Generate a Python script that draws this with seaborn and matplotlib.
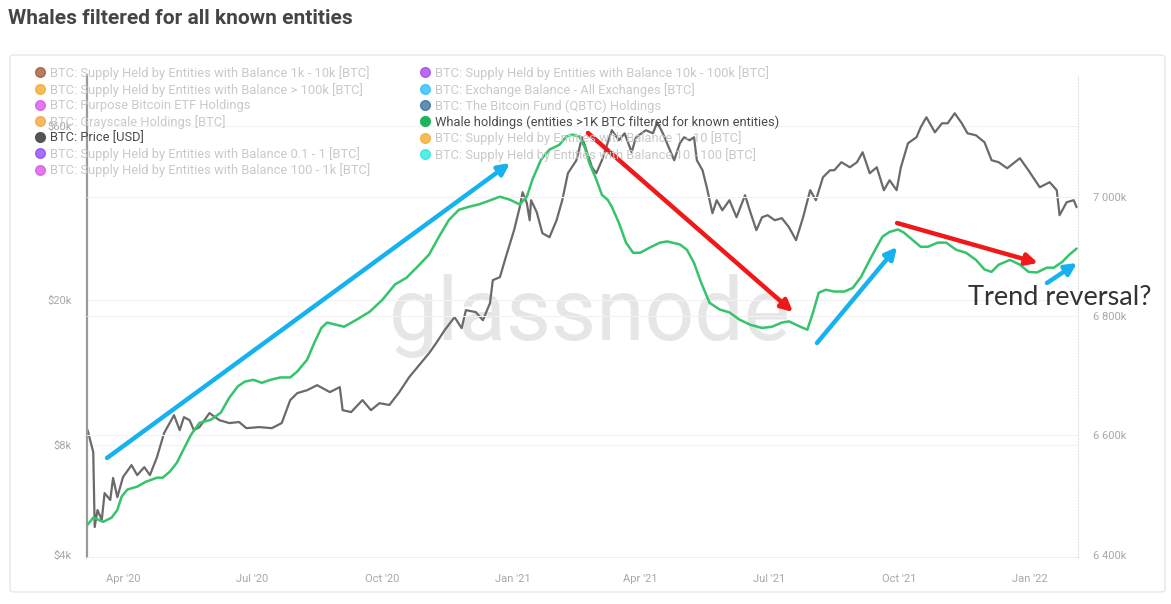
import pandas as pd
import matplotlib
matplotlib.use('Agg')
import matplotlib.pyplot as plt
import matplotlib.dates as mdates
from matplotlib.lines import Line2D
from matplotlib.patches import FancyBboxPatch
import seaborn as sns

price_dates = [
    '2020-03-07', '2020-03-11', '2020-03-12', '2020-03-14', '2020-03-17', '2020-03-19', '2020-03-23',
    '2020-03-25', '2020-03-28', '2020-04-01', '2020-04-07', '2020-04-11', '2020-04-16', '2020-04-20',
    '2020-04-25', '2020-04-30', '2020-05-07', '2020-05-11', '2020-05-14', '2020-05-18', '2020-05-21',
    '2020-05-25', '2020-06-01', '2020-06-08', '2020-06-15', '2020-06-22', '2020-06-27', '2020-07-06',
    '2020-07-15', '2020-07-22', '2020-07-28', '2020-08-02', '2020-08-09', '2020-08-16', '2020-08-25',
    '2020-09-01', '2020-09-03', '2020-09-09', '2020-09-17', '2020-09-23', '2020-09-29', '2020-10-06',
    '2020-10-13', '2020-10-20', '2020-10-27', '2020-11-03', '2020-11-08', '2020-11-14', '2020-11-21',
    '2020-11-26', '2020-11-29', '2020-12-06', '2020-12-11', '2020-12-16', '2020-12-18', '2020-12-23',
    '2020-12-28', '2021-01-02', '2021-01-06', '2021-01-08', '2021-01-11', '2021-01-13', '2021-01-14',
    '2021-01-18', '2021-01-22', '2021-01-27', '2021-02-01', '2021-02-05', '2021-02-09', '2021-02-15',
    '2021-02-19', '2021-02-22', '2021-02-26', '2021-03-01', '2021-03-05', '2021-03-08', '2021-03-12',
    '2021-03-17', '2021-03-21', '2021-03-26', '2021-03-29', '2021-04-05', '2021-04-10', '2021-04-13',
    '2021-04-17', '2021-04-20', '2021-04-25', '2021-04-29', '2021-05-02', '2021-05-06', '2021-05-09',
    '2021-05-11', '2021-05-15', '2021-05-18', '2021-05-20', '2021-05-22', '2021-05-25', '2021-05-29',
    '2021-06-03', '2021-06-08', '2021-06-14', '2021-06-18', '2021-06-22', '2021-06-26', '2021-06-30',
    '2021-07-05', '2021-07-10', '2021-07-15', '2021-07-20', '2021-07-25', '2021-07-30', '2021-08-03',
    '2021-08-08', '2021-08-13', '2021-08-16', '2021-08-21', '2021-08-27', '2021-09-01', '2021-09-05',
    '2021-09-10', '2021-09-15', '2021-09-20', '2021-09-24', '2021-09-29', '2021-10-02', '2021-10-07',
    '2021-10-13', '2021-10-16', '2021-10-20', '2021-10-26', '2021-10-31', '2021-11-04', '2021-11-09',
    '2021-11-14', '2021-11-18', '2021-11-24', '2021-11-30', '2021-12-05', '2021-12-10', '2021-12-16',
    '2021-12-25', '2021-12-31', '2022-01-08', '2022-01-15', '2022-01-20', '2022-01-22', '2022-01-27',
    '2022-02-01', '2022-02-03',
]
price_usd = [
    8790, 7650, 4770, 5310, 4990, 5910, 5660,
    6500, 5760, 6540, 7050, 6620, 6960, 6620,
    7420, 8630, 9660, 8790, 9540, 9360, 8790,
    8960, 9790, 9360, 9190, 9250, 8900, 8960,
    8900, 9190, 10620, 11100, 11310, 11670, 11170,
    11530, 9970, 9850, 10620, 9970, 10420, 10300,
    11170, 12280, 13240, 14280, 15210, 16510, 17920,
    16720, 18730, 18500, 17580, 19580, 22630, 23060,
    26820, 31010, 35850, 39400, 36760, 33020, 37460,
    34730, 30420, 29670, 33020, 37460, 44410, 48200,
    55720, 51330, 46110, 44410, 48200, 52310, 58230,
    54670, 57120, 50690, 55720, 58230, 57120, 61220,
    57120, 53630, 48200, 53630, 55720, 54670, 55720,
    48200, 45250, 40650, 37460, 34510, 37460, 35160,
    37460, 33650, 38660, 34510, 31010, 33650, 34080,
    33020, 33450, 31600, 29120, 33650, 39900, 37460,
    43300, 45250, 45250, 47600, 46110, 47600, 50690,
    44410, 46110, 39900, 42490, 39900, 46110, 53630,
    55720, 59350, 63200, 57480, 60840, 60840, 64810,
    60840, 57120, 56410, 53990, 48200, 47600, 45830,
    48810, 45250, 40650, 41960, 39900, 34080, 36990,
    37460, 35850,
]

# Whale holdings (entities >1K BTC filtered for known entities), in k BTC, right axis
whale_dates = [
    '2020-03-07', '2020-03-11', '2020-03-18', '2020-03-24', '2020-03-28', '2020-03-31', '2020-04-04',
    '2020-04-11', '2020-04-17', '2020-04-25', '2020-04-29', '2020-05-04', '2020-05-09', '2020-05-13',
    '2020-05-19', '2020-05-25', '2020-06-02', '2020-06-09', '2020-06-15', '2020-06-21', '2020-06-26',
    '2020-07-02', '2020-07-08', '2020-07-14', '2020-07-21', '2020-07-28', '2020-08-02', '2020-08-09',
    '2020-08-14', '2020-08-19', '2020-08-23', '2020-08-30', '2020-09-04', '2020-09-13', '2020-09-22',
    '2020-10-01', '2020-10-10', '2020-10-18', '2020-10-26', '2020-11-03', '2020-11-10', '2020-11-17',
    '2020-11-24', '2020-12-01', '2020-12-08', '2020-12-14', '2020-12-23', '2020-12-30', '2021-01-06',
    '2021-01-11', '2021-01-15', '2021-01-21', '2021-01-27', '2021-02-03', '2021-02-08', '2021-02-12',
    '2021-02-17', '2021-02-21', '2021-02-24', '2021-03-01', '2021-03-05', '2021-03-09', '2021-03-12',
    '2021-03-17', '2021-03-22', '2021-03-27', '2021-04-01', '2021-04-08', '2021-04-15', '2021-04-20',
    '2021-04-29', '2021-05-04', '2021-05-09', '2021-05-14', '2021-05-20', '2021-05-27', '2021-06-03',
    '2021-06-10', '2021-06-18', '2021-06-26', '2021-07-03', '2021-07-10', '2021-07-15', '2021-07-23',
    '2021-07-28', '2021-08-01', '2021-08-05', '2021-08-10', '2021-08-16', '2021-08-23', '2021-08-29',
    '2021-09-04', '2021-09-10', '2021-09-15', '2021-09-19', '2021-09-24', '2021-09-30', '2021-10-04',
    '2021-10-10', '2021-10-16', '2021-10-21', '2021-10-28', '2021-11-03', '2021-11-10', '2021-11-17',
    '2021-11-24', '2021-11-30', '2021-12-05', '2021-12-10', '2021-12-18', '2021-12-25', '2021-12-31',
    '2022-01-06', '2022-01-13', '2022-01-18', '2022-01-24', '2022-01-29', '2022-02-03',
]
whale_kbtc = [
    6450, 6462, 6455, 6462, 6475, 6497, 6509,
    6514, 6522, 6529, 6529, 6539, 6554, 6573,
    6601, 6621, 6626, 6638, 6663, 6682, 6690,
    6693, 6688, 6693, 6697, 6697, 6707, 6727,
    6755, 6780, 6789, 6785, 6782, 6794, 6807,
    6827, 6853, 6864, 6883, 6903, 6933, 6961,
    6978, 6983, 6987, 6992, 7000, 6995, 6987,
    7000, 7029, 7062, 7079, 7087, 7101, 7104,
    7101, 7082, 7057, 7029, 7003, 6995, 6983,
    6956, 6923, 6906, 6906, 6915, 6923, 6925,
    6920, 6911, 6889, 6856, 6822, 6811, 6806,
    6794, 6785, 6780, 6782, 6789, 6791, 6782,
    6777, 6806, 6839, 6844, 6841, 6841, 6847,
    6866, 6894, 6916, 6933, 6941, 6945, 6940,
    6928, 6916, 6916, 6923, 6923, 6911, 6906,
    6894, 6878, 6874, 6886, 6894, 6886, 6874,
    6873, 6881, 6881, 6891, 6903, 6913,
]

price_ticks = [4000, 8000, 20000, 60000]
price_tick_labels = ['$4k', '$8k', '$20k', '$60k']
whale_ticks = [6400, 6600, 6800, 7000]
whale_tick_labels = ['6 400k', '6 600k', '6 800k', '7 000k']

legend_labels = [
    'BTC: Supply Held by Entities with Balance 1k - 10k [BTC]',
    'BTC: Supply Held by Entities with Balance > 100k [BTC]',
    'BTC: Purpose Bitcoin ETF Holdings',
    'BTC: Grayscale Holdings [BTC]',
    'BTC: Price [USD]',
    'BTC: Supply Held by Entities with Balance 0.1 - 1 [BTC]',
    'BTC: Supply Held by Entities with Balance 100 - 1k [BTC]',
    'BTC: Supply Held by Entities with Balance 10k - 100k [BTC]',
    'BTC: Exchange Balance - All Exchanges [BTC]',
    'BTC: The Bitcoin Fund (QBTC) Holdings',
    'Whale holdings (entities >1K BTC filtered for known entities)',
    'BTC: Supply Held by Entities with Balance 1 - 10 [BTC]',
    'BTC: Supply Held by Entities with Balance 10 - 100 [BTC]',
]
legend_colors = ['#a0522d', '#f5a623', '#d94ce8', '#f5a030', '#555555', '#8a3ffc', '#d94ce8',
                 '#a23cf0', '#1ebcff', '#2f6a9c', '#1fb45a', '#f5a623', '#1fe6dc']
legend_active = [False, False, False, False, True, False, False,
                 False, False, False, True, False, False]

PRICE_COLOR = '#6a6a6a'
WHALE_COLOR = '#35c46a'
BLUE = '#16b2f0'
RED = '#f01818'

sns.set_style('white')
plt.rcParams['font.family'] = ['Roboto', 'DejaVu Sans']

df_price = pd.DataFrame({'date': pd.to_datetime(price_dates), 'price': price_usd})
df_whale = pd.DataFrame({'date': pd.to_datetime(whale_dates), 'whale': whale_kbtc})

fig = plt.figure(figsize=(11.71, 6.04), dpi=100)
ax = fig.add_axes([87 / 1171, 1 - 557 / 604, 991 / 1171, 482 / 604])
ax2 = ax.twinx()

# outer card
fig.patches.append(FancyBboxPatch((10 / 1171, 1 - 592 / 604), 1155 / 1171, 537 / 604,
                                  boxstyle='round,pad=0,rounding_size=0.004',
                                  transform=fig.transFigure, fill=False,
                                  edgecolor='#e8e8e8', linewidth=1))

fig.text(8 / 1171, 1 - 18 / 604, 'Whales filtered for all known entities',
         fontsize=15, fontweight='bold', color='#454545', va='center', ha='left')

# watermark
ax.text(0.508, 0.50, 'glassnode', transform=ax.transAxes, fontsize=63, color='#e6e6e6',
        ha='center', va='center', zorder=0)

sns.lineplot(data=df_price, x='date', y='price', ax=ax, color=PRICE_COLOR, linewidth=1.6, zorder=2)
sns.lineplot(data=df_whale, x='date', y='whale', ax=ax2, color=WHALE_COLOR, linewidth=1.8, zorder=3)

ax.set_yscale('log')
ax.set_ylim(3950, 82500)
ax.set_yticks(price_ticks)
ax.set_yticklabels(price_tick_labels)
ax.minorticks_off()
ax2.set_ylim(6396, 7204)
ax2.set_yticks(whale_ticks)
ax2.set_yticklabels(whale_tick_labels)
ax.set_xlim(pd.Timestamp('2020-03-06 14:00'), pd.Timestamp('2022-02-04'))

ax.xaxis.set_major_locator(mdates.MonthLocator(bymonth=[1, 4, 7, 10]))
ax.xaxis.set_major_formatter(mdates.DateFormatter("%b '%y"))

for a in (ax, ax2):
    a.set_xlabel('')
    a.set_ylabel('')
    a.tick_params(length=0, labelsize=8, labelcolor='#a8a8a8')
ax.tick_params(axis='y', pad=11)
ax2.tick_params(axis='y', pad=11)
ax.tick_params(axis='x', pad=12)

# faint horizontal grid for both scales
for t in price_ticks[1:]:
    ax.axhline(t, color='#f2f2f2', linewidth=0.8, zorder=0)
for t in whale_ticks[1:]:
    ax2.axhline(t, color='#f2f2f2', linewidth=0.8, zorder=0)

ax.spines['top'].set_visible(False)
ax2.spines['top'].set_visible(False)
ax.spines['left'].set_color('#9a9a9a')
ax.spines['left'].set_linewidth(1.6)
ax2.spines['left'].set_visible(False)
ax.spines['right'].set_visible(False)
ax2.spines['right'].set_color('#e2e2e2')
ax2.spines['right'].set_linestyle(':')
ax.spines['bottom'].set_color('#eeeeee')
ax2.spines['bottom'].set_visible(False)

# hand-drawn trend arrows (axes fraction)
arrows = [
    ((0.0202, 0.2054), (0.4268, 0.8174), BLUE),
    ((0.5055, 0.8797), (0.7124, 0.5083), RED),
    ((0.7366, 0.4440), (0.8174, 0.6432), BLUE),
    ((0.8174, 0.6929), (0.9596, 0.6100), RED),
    ((0.9687, 0.5685), (0.9990, 0.6100), BLUE),
]
for start, end, col in arrows:
    ax2.annotate('', xy=end, xytext=start, xycoords='axes fraction', textcoords='axes fraction',
                 arrowprops=dict(arrowstyle='-|>', color=col, lw=3.2, mutation_scale=17,
                                 shrinkA=0, shrinkB=0), zorder=5, annotation_clip=False)

ax2.text(0.889, 0.539, 'Trend reversal?', transform=ax2.transAxes, fontsize=19.5,
         family=['Lato', 'DejaVu Sans'], color='#333333', ha='left', va='center', clip_on=False)

handles = [Line2D([], [], marker='o', linestyle='', markersize=7, color=c,
                  alpha=1.0 if act else 0.75) for c, act in zip(legend_colors, legend_active)]
leg = fig.legend(handles, legend_labels, ncol=2, loc='upper left',
                 bbox_to_anchor=(36 / 1171, 1 - 66 / 604), frameon=False, fontsize=9.3,
                 handlelength=0.6, handletextpad=0.5, labelspacing=0.2, columnspacing=3.9,
                 borderpad=0, borderaxespad=0)
for txt, act in zip(leg.get_texts(), legend_active):
    txt.set_color('#4a4a4a' if act else '#c9c9c9')

fig.savefig('out.png', dpi=100)
plt.close(fig)
